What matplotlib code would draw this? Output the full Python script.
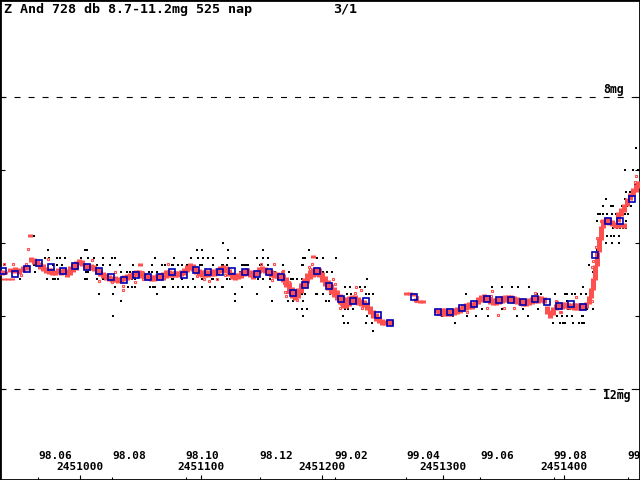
import matplotlib
matplotlib.use("Agg")
import matplotlib.pyplot as plt

plt.rcParams['lines.scale_dashes'] = False
plt.rcParams['font.family'] = ['DejaVu Sans Mono']
plt.rcParams['font.weight'] = 'bold'

JD0 = 2451000
title = "Z And 728 db 8.7-11.2mg 525 nap"
page = "3/1"

# 10-day means (day = JD - 2451000)
mean_day = [-64, -54, -44, -34, -24, -14, -4, 6, 16, 26, 36, 46, 56, 66, 76, 86, 96,
            106, 116, 126, 136, 146, 156, 166, 176, 186, 196, 206, 216, 226, 236, 246,
            256, 276, 296, 306, 316, 326, 336, 346, 356, 366, 376, 386, 396, 406, 416,
            426, 436, 446, 456]
mean_mag = [10.39, 10.42, 10.35, 10.28, 10.33, 10.39, 10.32, 10.33, 10.39, 10.46, 10.51,
            10.44, 10.46, 10.47, 10.40, 10.44, 10.37, 10.40, 10.40, 10.39, 10.40, 10.42,
            10.40, 10.46, 10.69, 10.58, 10.39, 10.59, 10.77, 10.80, 10.80, 10.98, 11.10,
            10.74, 10.95, 10.94, 10.89, 10.84, 10.77, 10.78, 10.78, 10.81, 10.77, 10.81,
            10.87, 10.83, 10.88, 10.17, 9.70, 9.70, 9.40]

# visual estimates, one row per reported magnitude
vis_obs = [
    (8.7, [459.5]),
    (9.0, [450.4, 457.0, 461.1]),
    (9.2, [458.7]),
    (9.3, [451.2, 454.5, 457.0]),
    (9.4, [434.7, 450.4, 456.2]),
    (9.5, [432.2, 438.8, 440.5, 447.9, 452.0, 455.3]),
    (9.6, [428.1, 429.7, 432.2, 435.5, 439.7, 443.0, 447.9, 450.4, 452.9]),
    (9.7, [427.2, 431.4, 432.2, 446.3, 451.2]),
    (9.8, [431.4, 432.2, 440.5, 443.8, 446.3, 448.8, 451.2]),
    (9.9, [-38.0, 431.4, 435.5, 438.8, 441.3, 445.4]),
    (10.0, [118.2, 429.7, 434.7, 439.7, 445.4]),
    (10.1, [-26.4, 4.1, 5.8, 96.7, 100.8, 122.3, 151.2, 189.2, 427.2, 429.7]),
    (10.2, [-28.9, -25.6, -19.0, -16.5, -12.4, 0.8, 6.6, 11.6, 19.0, 26.4, 28.9, 62.0,
            77.7, 91.7, 97.5, 101.6, 105.8, 109.9, 122.3, 128.1, 146.3, 151.2, 155.4,
            184.3, 185.9, 195.9, 200.8, 211.6]),
    (10.3, [-62.8, -38.0, -31.4, -22.3, -19.0, -14.9, 1.7, 5.8, 14.0, 19.0, 24.8, 33.1,
            43.8, 59.5, 67.8, 70.2, 76.0, 76.9, 81.0, 84.3, 88.4, 92.6, 99.2, 100.8,
            109.9, 117.4, 118.2, 121.5, 133.9, 134.7, 136.4, 138.0, 138.8, 148.8, 150.4,
            155.4, 167.8, 183.5, 184.3, 420.6]),
    (10.4, [-37.2, 5.0, 6.6, 33.9, 38.8, 41.3, 43.8, 52.1, 57.0, 59.5, 63.6, 70.2, 78.5,
            86.8, 96.7, 101.6, 121.5, 132.2, 140.5, 147.1, 161.2, 167.8, 172.7, 200.8,
            204.1, 208.3, 424.0]),
    (10.5, [-49.6, -27.3, -22.3, -20.7, -18.2, 4.1, 5.8, 14.0, 19.0, 22.3, 28.9, 38.8,
            43.0, 45.5, 53.7, 57.9, 60.3, 76.0, 76.9, 84.3, 93.4, 100.8, 109.1, 109.9,
            113.2, 121.5, 124.0, 128.1, 147.1, 151.2, 157.0, 163.6, 174.4, 176.0, 179.3,
            183.5, 237.2, 424.9]),
    (10.6, [28.9, 39.7, 43.0, 45.5, 57.9, 60.3, 62.0, 68.6, 70.2, 76.9, 81.0, 85.1, 89.3,
            95.0, 100.8, 107.4, 111.6, 117.4, 118.2, 133.9, 157.0, 219.0, 223.1, 231.4,
            235.5, 340.5, 348.7, 357.0, 362.0, 371.1, 415.7, 424.9]),
    (10.7, [15.7, 27.3, 63.6, 128.1, 146.3, 180.2, 183.5, 185.9, 195.0, 195.9, 200.8,
            206.6, 220.6, 224.0, 236.4, 238.8, 242.1, 319.0, 377.7, 381.0, 392.6, 400.8,
            402.5, 406.6, 409.1, 414.0, 418.2]),
    (10.8, [33.9, 128.1, 158.7, 171.9, 176.0, 184.3, 203.3, 205.8, 220.6, 223.1, 228.1,
            333.0, 379.3, 381.0, 402.5, 421.5]),
    (10.9, [179.3, 183.5, 187.6, 219.0, 221.5, 225.6, 310.7, 332.2, 348.7, 366.1, 378.5,
            403.3, 404.9, 413.2, 415.7, 417.4, 419.0, 424.0]),
    (11.0, [27.3, 184.3, 217.3, 237.2, 299.1, 308.3, 319.8, 327.3, 337.2, 361.2, 370.2,
            390.1, 394.2, 398.3, 402.5, 406.6, 414.9, 415.7]),
    (11.1, [218.2, 221.5, 236.4, 241.3, 309.9, 390.9, 396.7, 399.2, 400.8, 407.4, 412.4,
            414.9, 416.5]),
    (11.2, [242.1]),
]

# dense CCD/photometric run: day, bright edge, faint edge
band_day = [-64.5, -62.0, -57.9, -53.7, -50.4, -47.1, -43.8, -40.5, -38.0, -35.5, -33.1,
            -30.6, -28.1, -25.6, -23.1, -20.7, -18.2, -15.7, -13.2, -10.7, -8.3, -5.8,
            -3.3, -0.8, 1.7, 4.1, 6.6, 9.1, 11.6, 14.0, 16.5, 19.0, 21.5, 24.0, 26.4, 28.9,
            31.4, 33.9, 36.4, 38.8, 41.3, 43.8, 46.3, 48.8, 51.2, 53.7, 56.2, 58.7, 61.2,
            63.6, 66.1, 68.6, 71.1, 73.6, 76.0, 78.5, 81.0, 83.5, 85.9, 88.4, 90.9, 93.4,
            95.9, 98.3, 100.8, 103.3, 105.8, 108.3, 110.7, 113.2, 115.7, 118.2, 120.7,
            123.1, 125.6, 128.1, 130.6, 133.1, 135.5, 138.0, 140.5, 143.0, 145.5, 147.9,
            150.4, 152.9, 155.4, 157.9, 160.3, 162.8, 165.3, 167.8, 170.2, 172.7, 175.2,
            177.7, 180.2, 182.6, 185.1, 187.6, 190.1, 192.6, 195.0, 197.5, 200.0, 202.5,
            204.9, 207.4, 209.9, 212.4, 214.9, 217.3, 219.8, 222.3, 224.8, 227.3, 229.7,
            232.2, 234.7, 237.2, 239.7, 242.1, 244.6, 247.1, 249.6, 252.0, 254.5, 257.0,
            269.4, 272.7, 275.2, 277.7, 281.0, 283.5,
            294.2, 296.7, 299.2, 301.7, 304.1, 306.6, 309.1, 311.6, 314.0, 316.5, 319.0,
            321.5, 324.0, 326.4, 328.9, 331.4, 333.9, 336.4, 338.8, 341.3, 343.8, 346.3,
            348.7, 351.2, 353.7, 356.2, 358.7, 361.1, 363.6, 366.1, 368.6, 371.1, 373.5,
            376.0, 378.5, 381.0, 383.5, 385.9, 388.4, 390.9, 393.4, 395.9, 398.3, 400.8,
            403.3, 405.8, 408.3, 410.7, 413.2, 415.7, 418.2, 420.6, 422.3, 424.0, 425.6,
            427.2, 428.9, 430.6, 432.2, 434.7, 437.2, 439.7, 442.1, 444.6, 447.1, 449.6,
            452.0, 454.5, 457.0, 459.5, 461.1,
            -62.8, -59.5, -56.2, -41.3, 49.6, 192.6, 444.6, 447.1, 449.6]
band_top = [10.37, 10.38, 10.34, 10.33, 10.34, 10.32, 10.30, 10.19, 10.21, 10.23, 10.26,
            10.29, 10.33, 10.34, 10.34, 10.37, 10.34, 10.36, 10.34, 10.36, 10.32, 10.27,
            10.25, 10.22, 10.23, 10.27, 10.29, 10.29, 10.30, 10.34, 10.37, 10.40, 10.41,
            10.44, 10.45, 10.45, 10.47, 10.47, 10.44, 10.42, 10.41, 10.40, 10.37, 10.37,
            10.38, 10.41, 10.42, 10.44, 10.44, 10.42, 10.41, 10.40, 10.37, 10.37, 10.38,
            10.38, 10.38, 10.37, 10.34, 10.30, 10.27, 10.29, 10.33, 10.36, 10.37, 10.37,
            10.37, 10.37, 10.36, 10.34, 10.32, 10.30, 10.32, 10.36, 10.40, 10.41, 10.41,
            10.38, 10.36, 10.34, 10.37, 10.40, 10.37, 10.33, 10.32, 10.33, 10.36, 10.37,
            10.38, 10.40, 10.41, 10.42, 10.47, 10.53, 10.60, 10.64, 10.62, 10.55, 10.48,
            10.41, 10.37, 10.34, 10.33, 10.34, 10.40, 10.45, 10.51, 10.56, 10.60, 10.64,
            10.70, 10.74, 10.74, 10.73, 10.71, 10.71, 10.74, 10.77, 10.78, 10.81, 10.86,
            10.92, 10.96, 11.00, 11.04, 11.05, 11.05, 11.05,
            10.67, 10.67, 10.68, 10.75, 10.78, 10.78,
            10.90, 10.90, 10.89, 10.89, 10.90, 10.90, 10.89, 10.88, 10.86, 10.84, 10.82,
            10.81, 10.81, 10.79, 10.74, 10.71, 10.70, 10.71, 10.74, 10.75, 10.75, 10.74,
            10.73, 10.71, 10.71, 10.71, 10.73, 10.74, 10.75, 10.77, 10.77, 10.75, 10.74,
            10.73, 10.73, 10.73, 10.74, 10.86, 10.92, 10.88, 10.84, 10.82, 10.81, 10.81,
            10.82, 10.82, 10.82, 10.82, 10.82, 10.82, 10.81, 10.73, 10.62, 10.48, 10.30,
            10.12, 9.93, 9.77, 9.67, 9.64, 9.66, 9.68, 9.71, 9.58, 9.52, 9.47,
            9.38, 9.32, 9.25, 9.19, 9.15,
            10.48, 10.48, 10.48, 9.88, 10.27, 10.17, 9.72, 9.73, 9.73]
band_bot = [10.44, 10.42, 10.40, 10.41, 10.42, 10.40, 10.37, 10.26, 10.29, 10.32, 10.36,
            10.38, 10.41, 10.42, 10.44, 10.44, 10.42, 10.44, 10.42, 10.47, 10.44, 10.40,
            10.37, 10.30, 10.32, 10.36, 10.37, 10.37, 10.38, 10.42, 10.45, 10.48, 10.51,
            10.52, 10.53, 10.53, 10.55, 10.53, 10.52, 10.51, 10.49, 10.48, 10.45, 10.47,
            10.48, 10.49, 10.51, 10.52, 10.52, 10.51, 10.49, 10.51, 10.48, 10.47, 10.47,
            10.47, 10.47, 10.45, 10.44, 10.40, 10.37, 10.38, 10.42, 10.45, 10.47, 10.47,
            10.47, 10.45, 10.45, 10.44, 10.41, 10.40, 10.41, 10.45, 10.49, 10.51, 10.49,
            10.48, 10.45, 10.44, 10.47, 10.49, 10.45, 10.41, 10.40, 10.41, 10.44, 10.47,
            10.48, 10.48, 10.49, 10.53, 10.60, 10.68, 10.75, 10.78, 10.75, 10.68, 10.62,
            10.55, 10.49, 10.47, 10.45, 10.47, 10.53, 10.59, 10.64, 10.70, 10.74, 10.78,
            10.84, 10.89, 10.89, 10.86, 10.84, 10.84, 10.85, 10.86, 10.88, 10.92, 10.97,
            11.03, 11.07, 11.10, 11.12, 11.12, 11.12, 11.12,
            10.71, 10.71, 10.73, 10.81, 10.82, 10.82,
            10.96, 10.99, 11.00, 11.00, 11.00, 11.00, 10.99, 10.97, 10.96, 10.93, 10.92,
            10.90, 10.90, 10.88, 10.84, 10.81, 10.79, 10.81, 10.84, 10.85, 10.85, 10.84,
            10.82, 10.81, 10.81, 10.81, 10.82, 10.84, 10.85, 10.86, 10.86, 10.85, 10.84,
            10.82, 10.82, 10.81, 10.82, 10.97, 11.03, 10.99, 10.92, 10.90, 10.90, 10.89,
            10.90, 10.90, 10.92, 10.92, 10.92, 10.90, 10.89, 10.84, 10.75, 10.64, 10.51,
            10.32, 10.12, 9.96, 9.79, 9.74, 9.75, 9.77, 9.79, 9.71, 9.63, 9.58,
            9.49, 9.41, 9.36, 9.30, 9.25,
            10.51, 10.51, 10.51, 9.92, 10.31, 10.21, 9.79, 9.78, 9.79]

# single scattered points of the same run
hol_day = [-62.8, -55.4, -44.6, -43.0, -26.4, 9.9, 15.7, 15.7, 26.4, 28.9, 35.5, 35.5,
           45.5, 51.2, 52.1, -48.8, 72.7, 96.7, 102.5, 106.6, 113.2, 119.8, 149.6, 160.3,
           158.7, 166.9, 171.1, 172.7, 169.4, 170.2, 179.3, 189.2, 191.7, 190.1, 190.1,
           167.8, 166.1, 168.6, 171.1, 209.1, 210.7, 206.6, 228.1, 232.2, 227.3, 233.9,
           233.1, 214.9, 215.7, 278.5, 277.7, 340.5, 339.6, 343.8, 345.4, 350.4, 358.7,
           376.0, 378.5, 394.2, 409.9, 396.7, 319.8, 300.0, 336.4, 384.3, 393.4, 397.5,
           423.1, 423.1, 423.1, 423.9, 426.4, 427.2, 430.6, 458.7, 459.5]
hol_mag = [10.29, 10.29, 10.29, 10.08, 10.22, 10.23, 10.36, 10.52, 10.53, 10.40, 10.59,
           10.64, 10.53, 10.40, 10.49, 10.44, 10.29, 10.45, 10.49, 10.52, 10.49, 10.44,
           10.29, 10.29, 10.51, 10.40, 10.55, 10.53, 10.67, 10.73, 10.78, 10.33, 10.29,
           10.42, 10.36, 10.38, 10.47, 10.55, 10.67, 10.49, 10.56, 10.66, 10.60, 10.64,
           10.68, 10.85, 10.89, 10.89, 10.84, 10.74, 10.79, 10.66, 10.73, 10.82, 10.99,
           10.89, 10.89, 10.68, 10.74, 10.81, 10.74, 10.95, 10.95, 10.95, 10.89, 10.77,
           10.79, 10.95, 10.79, 10.51, 10.33, 10.25, 10.05, 9.93, 9.70, 9.16, 9.08]

# month starts (JD) with labels, and JD labels
month_jd = [2450965.5, 2451026.5, 2451087.5, 2451148.5, 2451210.5, 2451269.5,
            2451330.5, 2451391.5, 2451452.5]
month_lbl = ["98.06", "98.08", "98.10", "98.12", "99.02", "99.04", "99.06", "99.08", "99.10"]
jd_ticks = [2451000, 2451100, 2451200, 2451300, 2451400]
mag_ticks = [8, 9, 10, 11, 12]

red = '#ff5050'
blue = '#0000b4'

fig = plt.figure(figsize=(6.4, 4.8), dpi=100)
ax = fig.add_axes([0, 0, 1, 1])
ax.set_xlim(2450933.9, 2451462.8)
ax.set_ylim(13.247, 6.671)

for m in (8, 12):
    ax.axhline(m, color='black', lw=0.8, ls=(0, (4.3, 5.8)), zorder=1)

for m, days in vis_obs:
    ax.plot([JD0 + d for d in days], [m] * len(days), ls='none', marker='s',
            ms=1.7, mew=0, color='black', zorder=2)

ax.vlines([JD0 + d for d in band_day], band_top, band_bot, color=red, lw=3.6, zorder=3)
ax.plot([JD0 + d for d in hol_day], hol_mag, ls='none', marker='s', ms=1.9,
        mfc='none', mec=red, mew=0.8, zorder=4)
ax.plot([JD0 + d for d in mean_day], mean_mag, ls='none', marker='s', ms=3.8,
        mfc='none', mec=blue, mew=1.2, zorder=5)

ax.set_xticks(jd_ticks)
ax.set_xticks(month_jd, minor=True)
ax.set_yticks(mag_ticks)
ax.tick_params(axis='x', which='major', direction='in', length=3.8, width=0.8,
               bottom=True, top=False, labelbottom=False)
ax.tick_params(axis='x', which='minor', direction='in', length=2.4, width=0.8,
               bottom=True, top=False)
ax.tick_params(axis='y', direction='in', length=3.8, width=0.8, left=True, right=True,
               labelleft=False)
for s in ax.spines.values():
    s.set_linewidth(2.0)

xt = ax.get_xaxis_transform()
for jd, lbl in zip(month_jd, month_lbl):
    ax.text(jd, 1 - 456 / 480, lbl, transform=xt, ha='left', va='center',
            fontsize=8, clip_on=False)
for jd in jd_ticks:
    ax.text(jd, 1 - 467.5 / 480, str(jd), transform=xt, ha='center', va='center',
            fontsize=8)

yt = ax.get_yaxis_transform()
ax.text(603 / 640, 7.9, "8mg", ha='left', va='center', fontsize=8.3, transform=yt)
ax.text(603 / 640, 12.09, "12mg", ha='left', va='center', fontsize=8.3, transform=yt)

fig.text(4 / 640, 1 - 9 / 480, title, ha='left', va='center', fontsize=9.6)
fig.text(333 / 640, 1 - 9 / 480, page, ha='left', va='center', fontsize=9.6)

fig.savefig("out.png", dpi=100)
